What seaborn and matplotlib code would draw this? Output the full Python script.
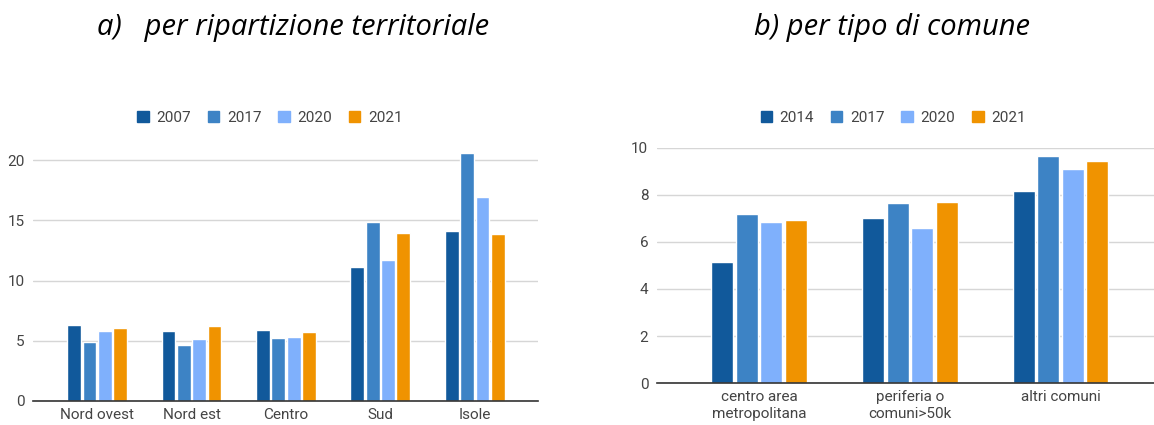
"""Due grafici a barre affiancati: a) per ripartizione territoriale, b) per tipo di comune."""

import matplotlib

matplotlib.use("Agg")

import matplotlib.pyplot as plt
import pandas as pd
import seaborn as sns

# dati del pannello a)
REGIONI = ["Nord ovest", "Nord est", "Centro", "Sud", "Isole"]
ANNI_A = ["2007", "2017", "2020", "2021"]
VALORI_2007 = [6.27, 5.83, 5.91, 11.1, 14.09]
VALORI_2017_A = [4.94, 4.61, 5.25, 14.89, 20.58]
VALORI_2020_A = [5.83, 5.11, 5.33, 11.71, 16.93]
VALORI_2021_A = [6.05, 6.19, 5.72, 13.95, 13.87]

# dati del pannello b)
COMUNI = ["centro area\nmetropolitana", "periferia o\ncomuni>50k", "altri comuni"]
ANNI_B = ["2014", "2017", "2020", "2021"]
VALORI_2014 = [5.15, 7.0, 8.19]
VALORI_2017_B = [7.17, 7.65, 9.65]
VALORI_2020_B = [6.85, 6.61, 9.12]
VALORI_2021_B = [6.93, 7.69, 9.45]

COLORI = ["#11599b", "#3d83c5", "#7fb0fc", "#f09300"]
GRIGIO_TESTO = "#444444"


def long_table(categorie, anni, serie):
    rows = []
    for anno, valori in zip(anni, serie):
        for categoria, valore in zip(categorie, valori):
            rows.append({"categoria": categoria, "anno": anno, "valore": valore})
    return pd.DataFrame(rows)


def draw_panel(fig, rect, data, categorie, anni, ylim, yticks, xlim, legend_xy):
    ax = fig.add_axes(rect)
    sns.barplot(data=data, x="categoria", y="valore", hue="anno", order=categorie,
                hue_order=anni, palette=COLORI, width=0.65, gap=0.1,
                saturation=1, ax=ax, legend=False)
    ax.set_ylim(*ylim)
    ax.set_xlim(*xlim)
    ax.set_yticks(yticks)
    ax.set_xlabel("")
    ax.set_ylabel("")
    ax.grid(axis="y", color="#d6d6d6", linewidth=1)
    ax.set_axisbelow(True)
    for side in ["top", "right", "left"]:
        ax.spines[side].set_visible(False)
    ax.spines["bottom"].set_color("#333333")
    ax.spines["bottom"].set_linewidth(1.2)
    ax.spines["bottom"].set_zorder(5)
    ax.tick_params(length=0, labelsize=11, labelcolor=GRIGIO_TESTO)
    ax.tick_params(axis="x", pad=5)
    ax.tick_params(axis="y", pad=6)
    for label in ax.get_xticklabels():
        label.set_linespacing(1.25)
    ax.set_facecolor("white")

    handles = [plt.Rectangle((0, 0), 1, 1, color=c) for c in COLORI]
    fig.legend(handles, anni, loc="center", bbox_to_anchor=legend_xy, ncol=4,
               frameon=False, fontsize=11, labelcolor=GRIGIO_TESTO,
               handlelength=0.75, handleheight=0.75, handletextpad=0.5,
               columnspacing=1.1)
    return ax


def main():
    sns.set_theme(style="white")
    plt.rcParams["font.family"] = ["Roboto", "DejaVu Sans"]

    fig = plt.figure(figsize=(11.54, 4.25), dpi=100)

    data_a = long_table(REGIONI, ANNI_A, [VALORI_2007, VALORI_2017_A, VALORI_2020_A, VALORI_2021_A])
    draw_panel(fig, [0.0286, 0.0565, 0.4376, 0.595], data_a, REGIONI, ANNI_A,
               (0, 21), [0, 5, 10, 15, 20], (-0.68, 4.67), (0.234, 0.723))

    data_b = long_table(COMUNI, ANNI_B, [VALORI_2014, VALORI_2017_B, VALORI_2020_B, VALORI_2021_B])
    draw_panel(fig, [0.569, 0.0988, 0.431, 0.553], data_b, COMUNI, ANNI_B,
               (0, 10), [0, 2, 4, 6, 8, 10], (-0.68, 2.62), (0.774, 0.723))

    titolo = dict(fontsize=21, style="italic", family=["Open Sans", "DejaVu Sans"],
                  ha="center", va="center", color="black")
    fig.text(0.254, 0.935, "a)   per ripartizione territoriale", **titolo)
    fig.text(0.773, 0.935, "b) per tipo di comune", **titolo)

    fig.savefig("out.png", dpi=100, facecolor="white")
    plt.close(fig)


if __name__ == "__main__":
    main()
